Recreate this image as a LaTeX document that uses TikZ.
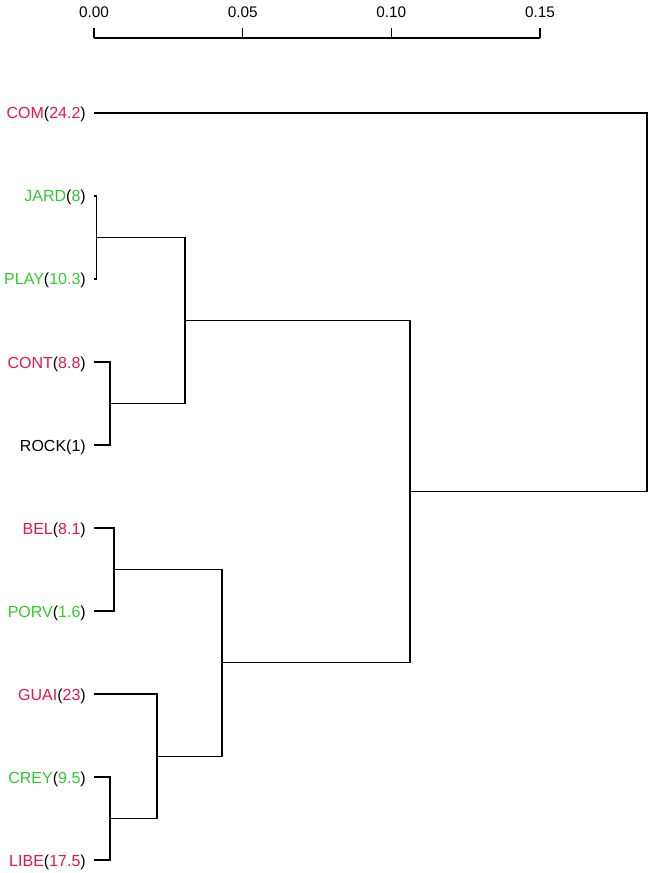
\documentclass[tikz,border=0pt]{standalone}
\usepackage{fontspec}
\setmainfont{Liberation Sans}
\definecolor{cred}{RGB}{228,22,76}
\definecolor{cgreen}{RGB}{46,204,46}
\tikzset{
  link/.style={draw=black, line width=0.8pt},
  leaflabel/.style={anchor=base east, inner sep=0pt, font=\fontsize{12}{14}\selectfont},
  ticklabel/.style={anchor=center, inner sep=0pt, font=\fontsize{11.5}{14}\selectfont},
}
\newcommand{\redlab}[2]{\textcolor{cred}{#1}(\textcolor{cred}{#2})}
\newcommand{\grnlab}[2]{\textcolor{cgreen}{#1}(\textcolor{cgreen}{#2})}
\begin{document}
\begin{tikzpicture}[x=0.75pt, y=-0.75pt]
\useasboundingbox (0,0) rectangle (652,873);
% axis
\coordinate (a0) at (94,38);
\coordinate (a1) at (242.7,38);
\coordinate (a2) at (391.3,38);
\coordinate (a3) at (540,38);
\draw[link] (a0) -- (a3);
\foreach \t/\l in {a0/0.00, a1/0.05, a2/0.10, a3/0.15} {
  \draw[link] (\t) -- ++(0,-10);
  \node[ticklabel] (lab\t) at ([yshift=25.5*0.75pt]\t) {\l};
}
% leaves
\coordinate (COM) at (94,113);
\coordinate (JARD) at (94,196);
\coordinate (PLAY) at (94,279);
\coordinate (CONT) at (94,362);
\coordinate (ROCK) at (94,445);
\coordinate (BEL) at (94,528);
\coordinate (PORV) at (94,611);
\coordinate (GUAI) at (94,694);
\coordinate (CREY) at (94,777);
\coordinate (LIBE) at (94,860);
\node[leaflabel] (lCOM) at (86,119) {\redlab{COM}{24.2}};
\node[leaflabel] (lJARD) at (86,202) {\grnlab{JARD}{8}};
\node[leaflabel] (lPLAY) at (86,285) {\grnlab{PLAY}{10.3}};
\node[leaflabel] (lCONT) at (86,368) {\redlab{CONT}{8.8}};
\node[leaflabel] (lROCK) at (86,451) {ROCK(1)};
\node[leaflabel] (lBEL) at (86,534) {\redlab{BEL}{8.1}};
\node[leaflabel] (lPORV) at (86,617) {\grnlab{PORV}{1.6}};
\node[leaflabel] (lGUAI) at (86,700) {\redlab{GUAI}{23}};
\node[leaflabel] (lCREY) at (86,783) {\grnlab{CREY}{9.5}};
\node[leaflabel] (lLIBE) at (86,866) {\redlab{LIBE}{17.5}};
% merges
\coordinate (mJP) at (96.5,237.5);
\coordinate (mCR) at (110,403.5);
\coordinate (mA) at (185,320.5);
\coordinate (mBP) at (114,569.5);
\coordinate (mCL) at (110,818.5);
\coordinate (mG) at (157,756.25);
\coordinate (mB) at (222,662.9);
\coordinate (mT) at (410,491.7);
\coordinate (root) at (647,302.3);
\draw[link] (JARD) -| (mJP) |- (PLAY);
\draw[link] (CONT) -| (mCR) |- (ROCK);
\draw[link] (mJP) -| (mA) |- (mCR);
\draw[link] (BEL) -| (mBP) |- (PORV);
\draw[link] (CREY) -| (mCL) |- (LIBE);
\draw[link] (GUAI) -| (mG) |- (mCL);
\draw[link] (mBP) -| (mB) |- (mG);
\draw[link] (mA) -| (mT) |- (mB);
\draw[link] (COM) -| (root) |- (mT);
\end{tikzpicture}
\end{document}
